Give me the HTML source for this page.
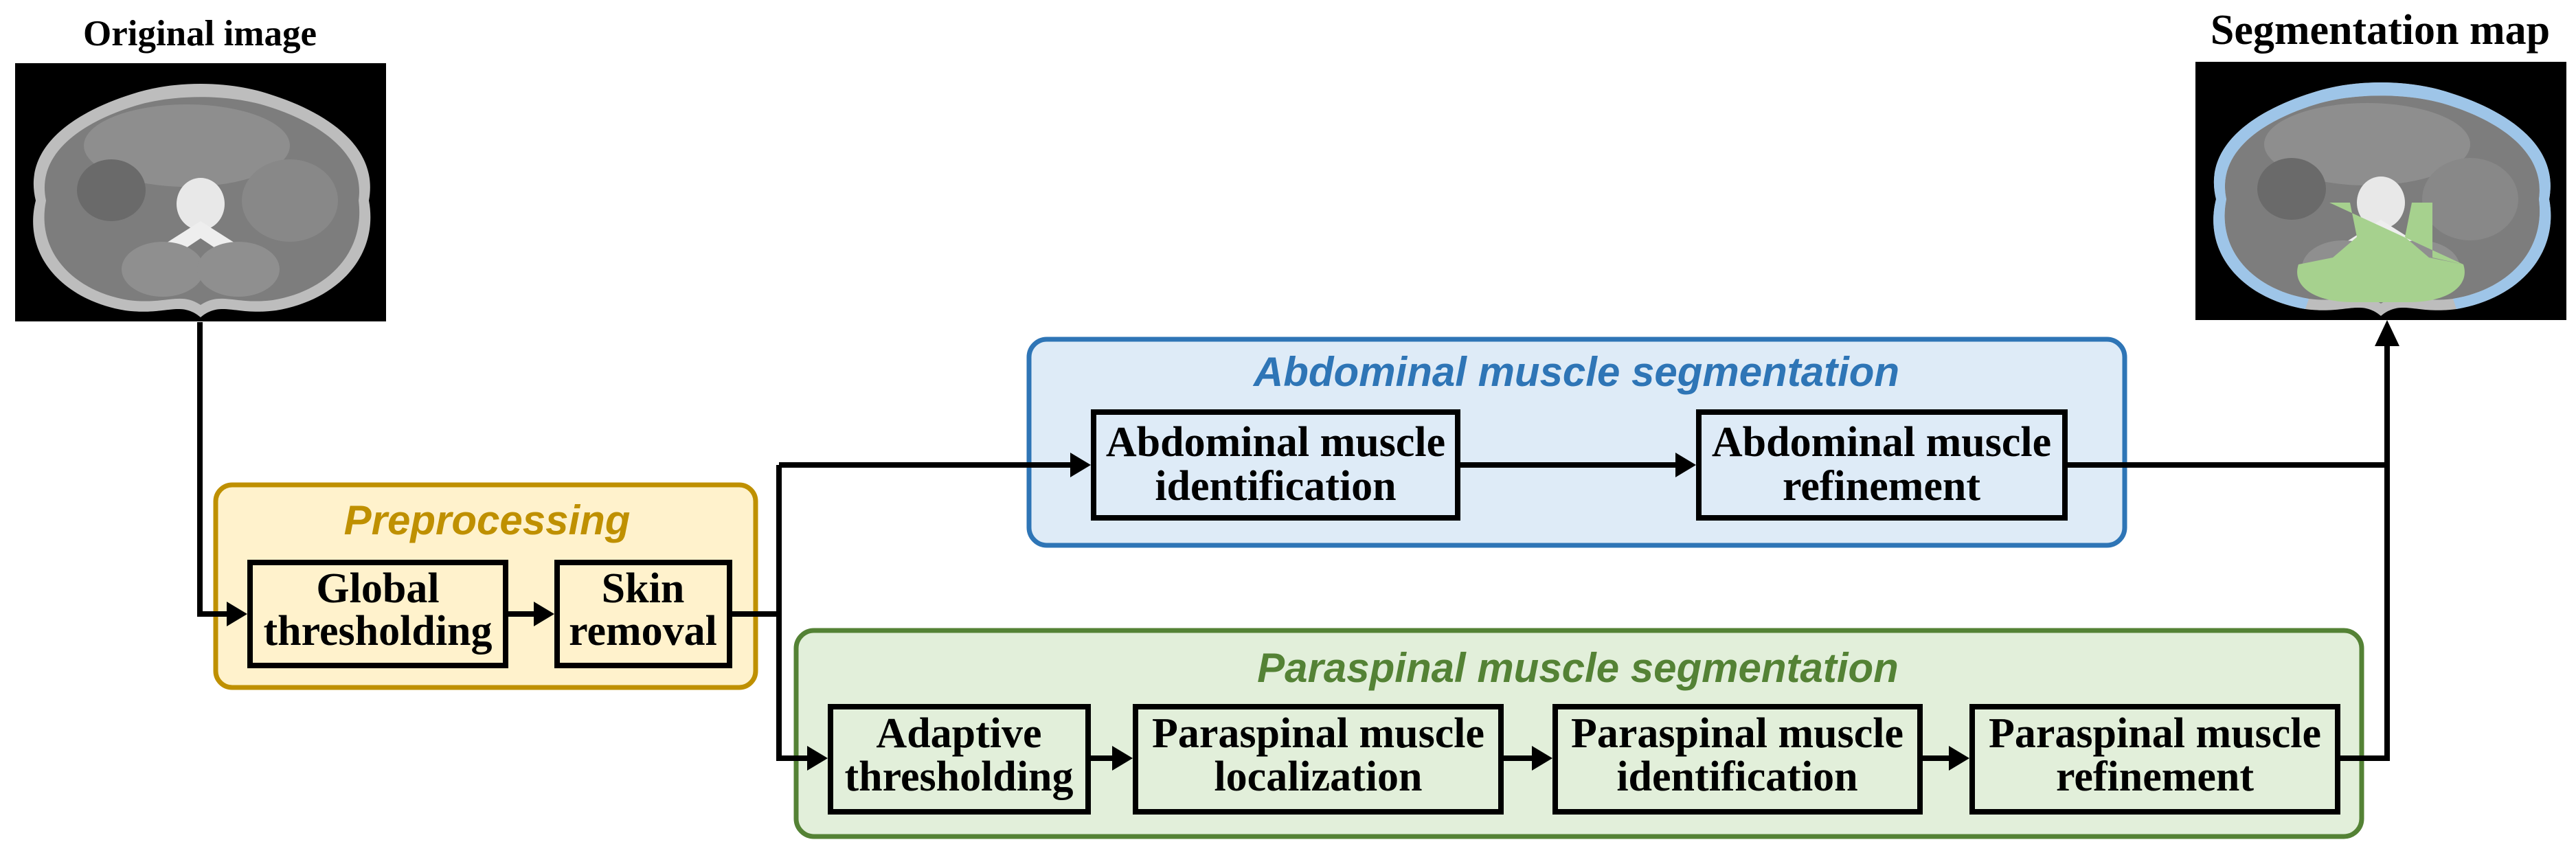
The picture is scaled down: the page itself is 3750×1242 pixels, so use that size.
<!DOCTYPE html>
<html><head><meta charset="utf-8"><style>
html,body{margin:0;padding:0;background:#fff;}
svg{display:block;}
.bx{font-family:"Liberation Serif",serif;font-weight:bold;font-size:62px;fill:#000;text-anchor:middle;}
.tt{font-family:"Liberation Sans",sans-serif;font-weight:bold;font-style:italic;font-size:60px;text-anchor:middle;}
.hd{font-family:"Liberation Serif",serif;font-weight:bold;text-anchor:middle;fill:#000;}
</style></head><body>
<svg width="3750" height="1242" viewBox="0 0 3750 1242" xmlns="http://www.w3.org/2000/svg">
<defs>
<g id="ct">
  <rect x="0" y="0" width="540" height="376" fill="#000"/>
  <path d="M30,200 C10,120 90,70 170,45 C230,25 310,25 370,45 C450,70 530,120 515,200 C530,280 470,345 380,360 C320,368 300,345 270,370 C240,345 220,368 160,360 C70,345 10,280 30,200 Z" fill="#bdbdbd"/>
  <path d="M45,200 C30,130 100,85 175,62 C230,45 310,45 365,62 C440,85 510,130 500,200 C510,275 455,332 375,345 C320,352 300,332 270,352 C240,332 220,352 165,345 C85,332 30,275 45,200 Z" fill="#7d7d7d"/>
  <ellipse cx="250" cy="120" rx="150" ry="60" fill="#8e8e8e"/>
  <ellipse cx="140" cy="185" rx="50" ry="45" fill="#6a6a6a"/>
  <ellipse cx="400" cy="200" rx="70" ry="60" fill="#888"/>
  <ellipse cx="270" cy="205" rx="35" ry="38" fill="#e8e8e8"/>
  <path d="M215,265 L270,230 L325,265 L300,275 L270,255 L240,275 Z" fill="#eee"/>
  <ellipse cx="215" cy="300" rx="60" ry="40" fill="#8f8f8f"/>
  <ellipse cx="325" cy="300" rx="60" ry="40" fill="#8f8f8f"/>
</g>
</defs>

<text class="hd" x="291" y="66" font-size="53">Original image</text>
<text class="hd" x="3465" y="64" font-size="62">Segmentation map</text>

<use href="#ct" x="22" y="92"/>
<g transform="translate(3196,90)">
  <use href="#ct" x="0" y="0"/>
  <path d="M30,200 C10,120 90,70 170,45 C230,25 310,25 370,45 C450,70 530,120 515,200 C530,280 470,345 380,360 L375,345 C455,332 510,275 500,200 C510,130 440,85 365,62 C310,45 230,45 175,62 C100,85 30,130 45,200 C30,275 85,332 165,345 L160,360 C70,345 10,280 30,200 Z" fill="#9ec5e8"/>
  <path d="M195,205 L225,205 L235,255 L200,285 L150,295 C140,325 170,350 230,350 L310,350 C370,350 400,325 390,295 L340,285 L305,255 L315,205 L345,205 L345,285 L390,295" fill="#a6d18e"/>
</g>

<rect x="314" y="706" width="786" height="295" rx="24" fill="#fff2cc" stroke="#bf9000" stroke-width="7"/>
<rect x="1498" y="494" width="1595" height="300" rx="26" fill="#deebf7" stroke="#2e75b6" stroke-width="7"/>
<rect x="1159" y="918" width="2279" height="300" rx="26" fill="#e2efda" stroke="#548235" stroke-width="7"/>

<text class="tt" x="709" y="778" fill="#bf9000">Preprocessing</text>
<text class="tt" x="2295" y="562" fill="#2e75b6">Abdominal muscle segmentation</text>
<text class="tt" x="2297" y="993" fill="#548235">Paraspinal muscle segmentation</text>

<g stroke="#000" stroke-width="8" fill="none">
  <polyline points="291,469 291,894 335,894"/>
  <line x1="740" y1="894" x2="782" y2="894"/>
  <polyline points="1066,894 1134,894"/>
  <polyline points="1134,677 1134,1104 1180,1104"/>
  <line x1="1134" y1="677" x2="1563" y2="677"/>
  <line x1="2126" y1="677" x2="2444" y2="677"/>
  <line x1="3010" y1="677" x2="3475" y2="677"/>
  <line x1="1588" y1="1104" x2="1624" y2="1104"/>
  <line x1="2189" y1="1104" x2="2235" y2="1104"/>
  <line x1="2799" y1="1104" x2="2842" y2="1104"/>
  <polyline points="3407,1104 3475,1104 3475,500"/>
</g>
<g fill="#000">
  <polygon points="360,894 330,876 330,912"/>
  <polygon points="807,894 777,876 777,912"/>
  <polygon points="1205,1104 1175,1086 1175,1122"/>
  <polygon points="1588,677 1558,659 1558,695"/>
  <polygon points="2469,677 2439,659 2439,695"/>
  <polygon points="1649,1104 1619,1086 1619,1122"/>
  <polygon points="2260,1104 2230,1086 2230,1122"/>
  <polygon points="2867,1104 2837,1086 2837,1122"/>
  <polygon points="3475,466 3457,504 3493,504"/>
</g>

<g fill="none" stroke="#000" stroke-width="8">
  <rect x="364" y="819" width="372" height="150"/>
  <rect x="811" y="819" width="251" height="150"/>
  <rect x="1592" y="600" width="530" height="154"/>
  <rect x="2473" y="600" width="533" height="154"/>
  <rect x="1209" y="1029" width="375" height="153"/>
  <rect x="1653" y="1029" width="532" height="153"/>
  <rect x="2264" y="1029" width="531" height="153"/>
  <rect x="2871" y="1029" width="532" height="153"/>
</g>

<g class="bx">
  <text x="550" y="877">Global</text><text x="550" y="939">thresholding</text>
  <text x="936" y="877">Skin</text><text x="936" y="939">removal</text>
  <text x="1857" y="664">Abdominal muscle</text><text x="1857" y="728">identification</text>
  <text x="2739" y="664">Abdominal muscle</text><text x="2739" y="728">refinement</text>
  <text x="1396" y="1088">Adaptive</text><text x="1396" y="1151">thresholding</text>
  <text x="1919" y="1088">Paraspinal muscle</text><text x="1919" y="1151">localization</text>
  <text x="2529" y="1088">Paraspinal muscle</text><text x="2529" y="1151">identification</text>
  <text x="3137" y="1088">Paraspinal muscle</text><text x="3137" y="1151">refinement</text>
</g>
</svg>
</body></html>
